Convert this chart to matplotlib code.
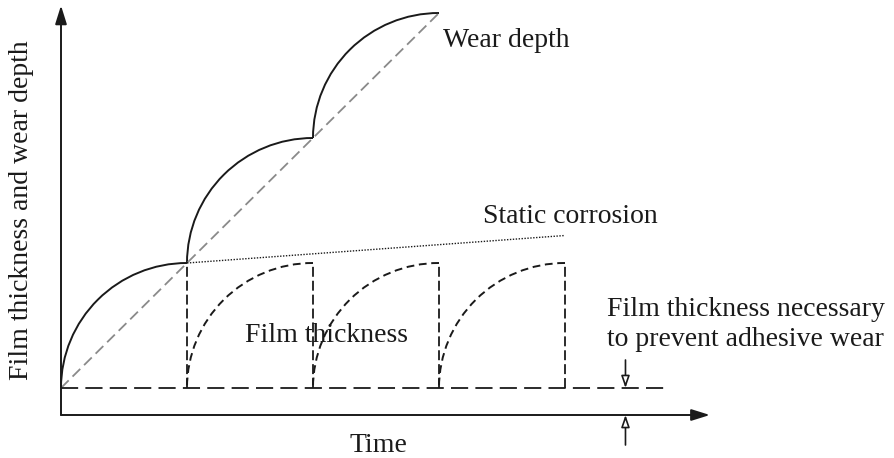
import matplotlib.pyplot as plt
from matplotlib.patches import Arc

plt.rcParams['font.family'] = ['Liberation Serif', 'DejaVu Serif']

# wear depth: one arc per sliding cycle, each cycle lifts wear by one step
wear_start_t = [0, 1, 2]
wear_start_y = [0, 1, 2]
# mean wear trend
trend_t = [0, 3]
trend_y = [0, 3]
# film thickness regrows after each removal
film_start_t = [1, 2, 3]
film_drop_t = [1, 2, 3, 4]
film_max = 1.0
# static corrosion film growth
corrosion_t = [1, 4]
corrosion_y = [1.0, 1.22]
# film thickness needed to prevent adhesive wear
critical_film = 0.0
critical_end_t = 4.79
axis_y = -0.216
marker_t = 4.48

fig = plt.figure(figsize=(8.95, 4.58), dpi=100)
ax = fig.add_axes([0, 0, 1, 1])
ax.set_xlim(-61 / 126, (895 - 61) / 126)
ax.set_ylim(-70 / 125, 388 / 125)
ax.axis('off')

ink = '#1a1a1a'

# axes with arrow heads
axis_arrow = dict(arrowstyle='-|>,head_length=0.8,head_width=0.25', color=ink, lw=1.4,
                  mutation_scale=14, shrinkA=0, shrinkB=0)
ax.annotate('', xy=(0, 3.06), xytext=(0, axis_y), arrowprops=axis_arrow)
ax.annotate('', xy=(5.15, axis_y), xytext=(0, axis_y), arrowprops=axis_arrow)

# trend line
ax.plot(trend_t, trend_y, color='#8a8a8a', lw=1.3, dashes=(6, 3))

# wear depth arcs (quarter ellipses, vertical start, horizontal end)
for t0, y0 in zip(wear_start_t, wear_start_y):
    ax.add_patch(Arc((t0 + 1, y0), 2, 2, theta1=90, theta2=180, color=ink, lw=1.4))

# film thickness arcs
for t0 in film_start_t:
    ax.add_patch(Arc((t0 + 1, critical_film), 2, 2 * film_max, theta1=90, theta2=180,
                     color=ink, lw=1.4, linestyle=(0, (4, 2.4))))
for t in film_drop_t:
    ax.plot([t, t], [critical_film, film_max], color=ink, lw=1.3, dashes=(5.5, 2.2))

# critical film thickness line
ax.plot([0, critical_end_t], [critical_film, critical_film], color=ink, lw=1.3, dashes=(9.5, 4))

# static corrosion
ax.plot(corrosion_t, corrosion_y, color=ink, lw=1.0, dashes=(1, 1.1))

# marker arrows for the critical thickness
marker_arrow = dict(arrowstyle='-|>,head_length=0.72,head_width=0.25', color=ink, fc='white',
                    lw=1.2, mutation_scale=10, shrinkA=0, shrinkB=0)
ax.annotate('', xy=(marker_t, critical_film), xytext=(marker_t, 0.224), arrowprops=marker_arrow)
ax.annotate('', xy=(marker_t, axis_y), xytext=(marker_t, -0.456), arrowprops=marker_arrow)

fs = 20
ax.text(3.03, 2.78, 'Wear depth', fontsize=fs, color=ink, ha='left', va='center')
ax.text(3.35, 1.376, 'Static corrosion', fontsize=fs, color=ink, ha='left', va='center')
ax.text(1.46, 0.416, 'Film thickness', fontsize=fs, color=ink, ha='left', va='center')
ax.text(4.33, 0.508, 'Film thickness necessary\nto prevent adhesive wear', fontsize=fs,
        color=ink, ha='left', va='center', linespacing=1.3)
ax.text(2.52, -0.456, 'Time', fontsize=fs, color=ink, ha='center', va='center')
ax.text(-0.31, 1.424, 'Film thickness and wear depth', fontsize=fs, color=ink,
        ha='center', va='center', rotation=90)

fig.savefig('out.png', dpi=100)
